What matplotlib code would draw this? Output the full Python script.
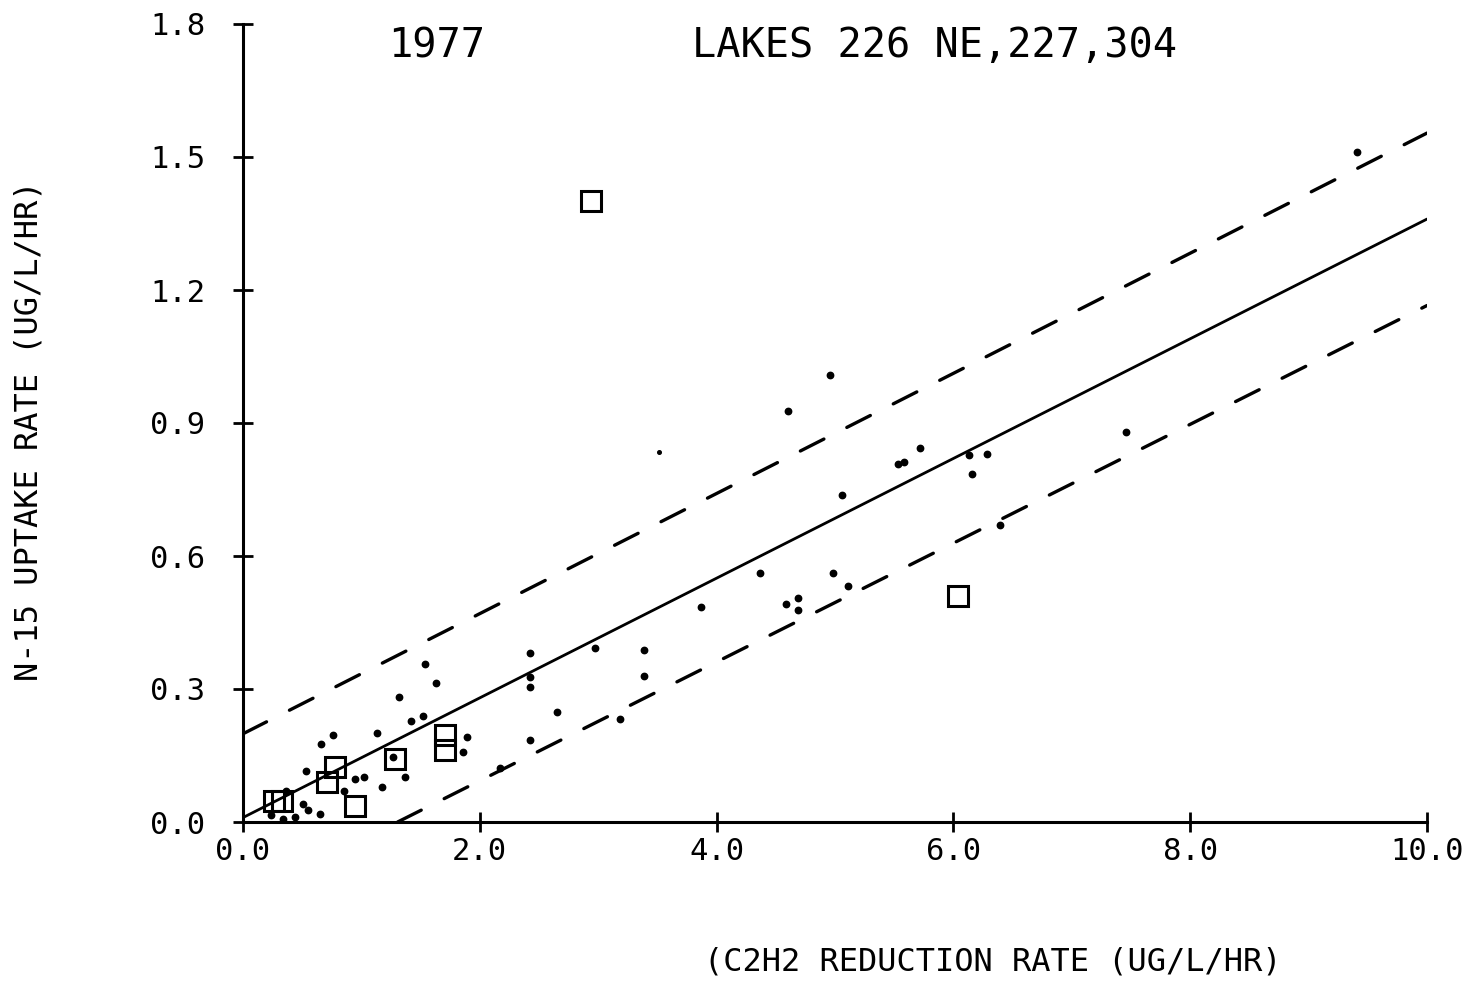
import matplotlib
matplotlib.use("Agg")
import matplotlib.pyplot as plt
import numpy as np

# ---- data -------------------------------------------------------------
# individual samples (filled dots): C2H2 reduction vs N-15 uptake, ug/L/hr
dot_x = [1.54, 1.63, 1.32, 1.42, 1.52, 0.76, 1.13, 0.66, 1.89, 1.86,
         2.17, 0.53, 0.95, 1.02, 1.37, 1.17, 0.85, 0.36, 0.51, 0.55,
         0.34, 0.44, 0.65, 0.24, 1.27,
         4.37, 3.87, 4.59, 4.69, 4.69, 2.42, 2.97, 3.39, 3.39, 2.42,
         2.42, 2.65, 3.18, 2.42,
         4.96, 4.60, 5.72, 5.53, 5.58, 6.13, 6.28, 6.16, 5.06, 7.46,
         6.39, 4.98, 5.11, 9.41]
dot_y = [0.356, 0.313, 0.283, 0.228, 0.239, 0.196, 0.200, 0.175, 0.191, 0.157,
         0.121, 0.116, 0.097, 0.101, 0.101, 0.078, 0.069, 0.071, 0.041, 0.027,
         0.006, 0.011, 0.017, 0.016, 0.147,
         0.561, 0.484, 0.491, 0.505, 0.478, 0.381, 0.392, 0.388, 0.329, 0.328,
         0.305, 0.249, 0.232, 0.185,
         1.008, 0.926, 0.843, 0.808, 0.811, 0.827, 0.829, 0.786, 0.738, 0.879,
         0.670, 0.561, 0.532, 1.512]

# faintly plotted sample
faint_x = [3.51]
faint_y = [0.834]

# station means (open squares)
sq_x = [2.94, 6.04, 1.71, 1.71, 1.28, 0.95, 0.78, 0.71, 0.26, 0.33]
sq_y = [1.400, 0.510, 0.196, 0.162, 0.142, 0.037, 0.125, 0.090, 0.047, 0.047]

# regression line and its confidence band (intercept, slope)
fit_line = (0.010, 0.1350)
upper_band = (0.199, 0.1355)
lower_band = (-0.175, 0.1340)

x_ticks = [0, 2, 4, 6, 8, 10]
x_tick_labels = ["0.0", "2.0", "4.0", "6.0", "8.0", "10.0"]
y_ticks = [0.0, 0.3, 0.6, 0.9, 1.2, 1.5, 1.8]
y_tick_labels = ["0.0", "0.3", "0.6", "0.9", "1.2", "1.5", "1.8"]

title_year = "1977"
title_lakes = "LAKES 226 NE,227,304"
x_label = "(C2H2 REDUCTION RATE (UG/L/HR)"
y_label = "N-15 UPTAKE RATE (UG/L/HR)"

# ---- figure -----------------------------------------------------------
plt.rcParams["font.family"] = ["DejaVu Sans Mono", "DejaVu Sans"]
plt.rcParams["lines.scale_dashes"] = False

W, H = 1466, 989
fig = plt.figure(figsize=(W / 100, H / 100), dpi=100)
fig.patch.set_facecolor("white")
ax = fig.add_axes([243 / W, (H - 822) / H, 1184 / W, 798 / H])
ax.set_xlim(0, 10)
ax.set_ylim(0, 1.8)

for side in ("top", "right"):
    ax.spines[side].set_visible(False)
for side in ("left", "bottom"):
    ax.spines[side].set_linewidth(2.2)
    ax.spines[side].set_color("black")

xs = np.array([0.0, 10.0])
b0, b1 = fit_line
ax.plot(xs, b0 + b1 * xs, color="black", lw=2.0, solid_capstyle="round")

dash = (0, (19.0, 18.5))
u0, u1 = upper_band
ax.plot(xs, u0 + u1 * xs, color="black", lw=2.4, linestyle=dash,
        dash_capstyle="round")
l0, l1 = lower_band
xl = np.array([-l0 / l1, 10.0])
ax.plot(xl, l0 + l1 * xl, color="black", lw=2.4, linestyle=dash,
        dash_capstyle="round")

ax.plot(dot_x, dot_y, linestyle="none", marker="o", markersize=4.6,
        color="black", clip_on=False)
ax.plot(faint_x, faint_y, linestyle="none", marker="o", markersize=2.6,
        color="black", clip_on=False)
ax.plot(sq_x, sq_y, linestyle="none", marker="s", markersize=14,
        markerfacecolor="none", markeredgecolor="black", markeredgewidth=2.2,
        clip_on=False)

ax.set_xticks(x_ticks)
ax.set_xticklabels(x_tick_labels)
ax.set_yticks(y_ticks)
ax.set_yticklabels(y_tick_labels)
ax.tick_params(axis="both", direction="inout", length=14, width=2,
               labelsize=22, colors="black")
ax.tick_params(axis="x", pad=4)
ax.tick_params(axis="y", pad=20)

ax.set_xlabel(x_label, fontsize=23, va="center")
ax.xaxis.set_label_coords((993 - 243) / 1184, (822 - 962) / 798)
ax.set_ylabel(y_label, fontsize=23, va="center")
ax.yaxis.set_label_coords((29 - 243) / 1184, (822 - 431) / 798)

fig.text(437 / W, 1 - 46 / H, title_year, ha="center", va="center",
         fontsize=29)
fig.text(934 / W, 1 - 46 / H, title_lakes, ha="center", va="center",
         fontsize=29)

fig.savefig("out.png", dpi=100, facecolor="white")
